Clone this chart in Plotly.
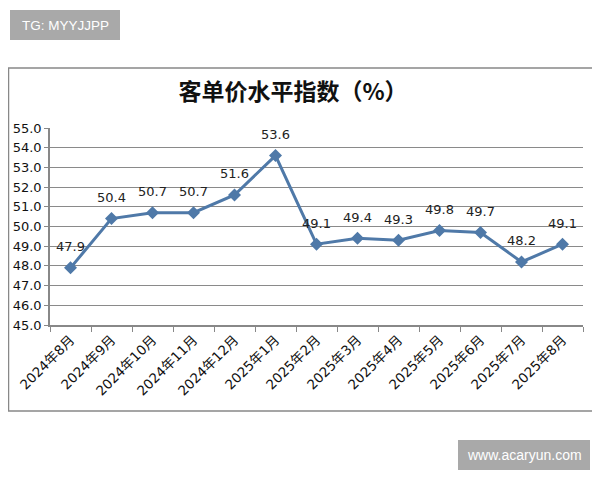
import plotly.graph_objects as go

# 客单价水平指数 data
months = ['2024年8月', '2024年9月', '2024年10月', '2024年11月', '2024年12月',
          '2025年1月', '2025年2月', '2025年3月', '2025年4月', '2025年5月',
          '2025年6月', '2025年7月', '2025年8月']
values = [47.9, 50.4, 50.7, 50.7, 51.6, 53.6, 49.1, 49.4, 49.3, 49.8, 49.7, 48.2, 49.1]
y_ticks = [45.0, 46.0, 47.0, 48.0, 49.0, 50.0, 51.0, 52.0, 53.0, 54.0, 55.0]

# page has an 8px body margin, so the figure is drawn a bit smaller and shifted
OFF = 8
W, H = 600 - OFF, 480 - OFF
L, R, T, B = 50 - OFF, 17, 128 - OFF, 155
pw, ph = W - L - R, H - T - B

# helpers: page pixel -> paper coords
def px_x(x):
    return (max(x - OFF, 0) - L) / pw

def px_y(y):
    return (H - B - max(y - OFF, 0)) / ph

font = "DejaVu Sans, Noto Sans CJK SC, sans-serif"
line_color = '#4f79a8'

fig = go.Figure()
fig.add_trace(go.Scatter(
    x=months, y=values,
    mode='lines+markers',
    line=dict(color=line_color, width=3),
    marker=dict(symbol='diamond', size=10, color=line_color),
    cliponaxis=False,
))

# value labels above the points
for m, v in zip(months, values):
    fig.add_annotation(x=m, y=v, text=f'{v:.1f}', showarrow=False,
                       yshift=21, font=dict(size=13, color='#222', family=font))

fig.update_layout(
    width=W, height=H,
    margin=dict(l=L, r=R, t=T, b=B),
    plot_bgcolor='white', paper_bgcolor='white',
    showlegend=False,
    font=dict(family=font, color='#222'),
    title=dict(text='客单价水平指数（%）', x=(293 - OFF) / W, xanchor='center',
               y=1 - (92 - OFF) / H, yanchor='middle',
               font=dict(size=23, color='#111', weight='bold',
                         family="Noto Sans CJK SC, sans-serif")),
)

fig.update_xaxes(
    type='category', range=[-0.5, len(months) - 0.5],
    tickson='boundaries', ticks='outside', ticklen=5,
    tickcolor='#888', showline=True, linecolor='#888', linewidth=1.5,
    showgrid=False, tickangle=-45, tickfont=dict(size=13.5, color='#111', family=font),
    automargin=False,
)
fig.update_yaxes(
    range=[45, 55], tickvals=y_ticks, tickformat='.1f', ticks='outside', ticklen=4,
    tickcolor='#888', showline=True, linecolor='#888', linewidth=1.5,
    showgrid=True, gridcolor='#8a8a8a', gridwidth=1,
    tickfont=dict(size=13, color='#111', family=font), zeroline=False, automargin=False,
)

shapes = [
    # outer chart frame
    dict(type='rect', xref='paper', yref='paper',
         x0=px_x(8.5), x1=px_x(598), y0=px_y(411), y1=px_y(68),
         line=dict(color='#888', width=1.5), fillcolor='rgba(0,0,0,0)', layer='below'),
    # grey label boxes
    dict(type='rect', xref='paper', yref='paper',
         x0=px_x(10), x1=px_x(120), y0=px_y(40), y1=px_y(10),
         line=dict(width=0), fillcolor='#a9a9a9'),
    dict(type='rect', xref='paper', yref='paper',
         x0=px_x(458), x1=px_x(590), y0=px_y(470), y1=px_y(440),
         line=dict(width=0), fillcolor='#a9a9a9'),
]
fig.update_layout(shapes=shapes)

fig.add_annotation(text='TG: MYYJJPP', xref='paper', yref='paper',
                   x=px_x(65), y=px_y(25), xanchor='center', yanchor='middle',
                   showarrow=False,
                   font=dict(size=13.5, color='white', family="Liberation Sans, sans-serif"))
fig.add_annotation(text='www.acaryun.com', xref='paper', yref='paper',
                   x=px_x(524), y=px_y(455), xanchor='center', yanchor='middle',
                   showarrow=False,
                   font=dict(size=14, color='white', family="Liberation Sans, sans-serif"))

fig.write_html("out.html")
